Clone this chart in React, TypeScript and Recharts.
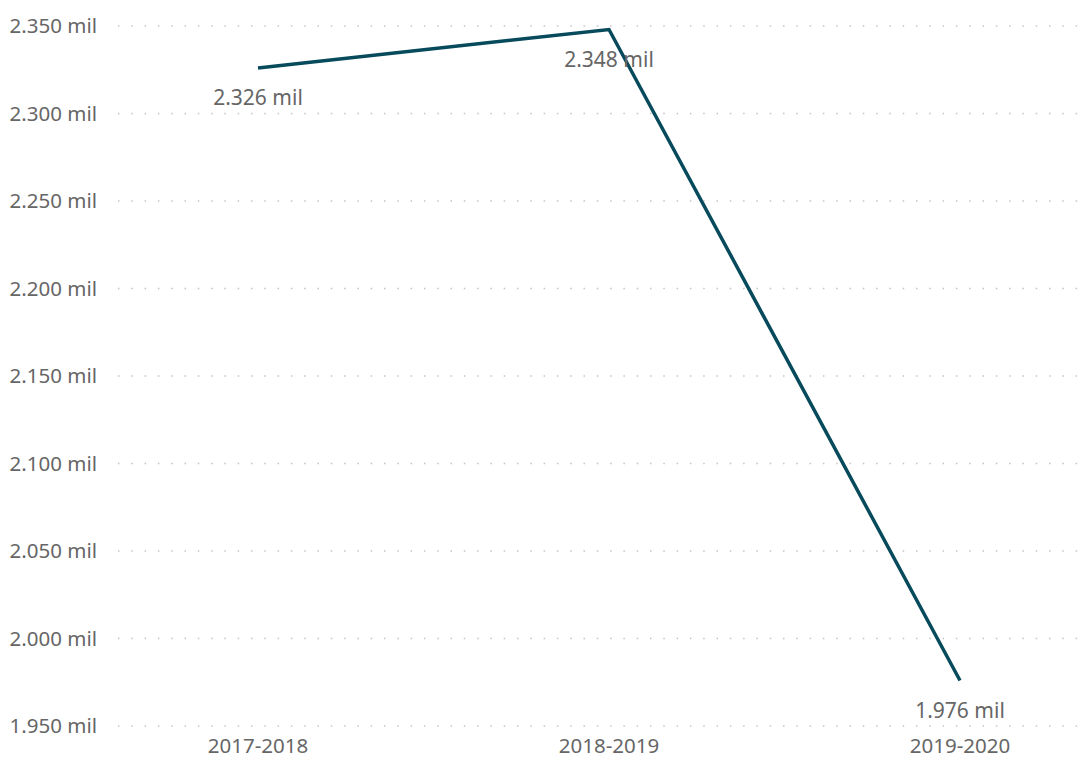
import { LineChart, Line, XAxis, YAxis, CartesianGrid, LabelList } from 'recharts';

const years = ['2017-2018', '2018-2019', '2019-2020'];
const students = [2326, 2348, 1976];
const yTicks = [1950, 2000, 2050, 2100, 2150, 2200, 2250, 2300, 2350];

const data = years.map((year, i) => ({ year, value: students[i] }));

const fmt = (v: number) => (v / 1000).toFixed(3) + ' mil';

const font = '"Noto Sans", "Open Sans", sans-serif';

function ValueLabel(props: any) {
  const { x, y, value } = props;
  return (
    <text
      x={x}
      y={y + 29}
      textAnchor="middle"
      dominantBaseline="central"
      fill="#666"
      fontSize={21}
      fontFamily={font}
    >
      {fmt(value)}
    </text>
  );
}

export default function App() {
  return (
    <div style={{ position: 'absolute', left: 0, top: 0, background: '#fff' }}>
      <LineChart
        width={1088}
        height={762}
        data={data}
        margin={{ top: 26, right: 0, bottom: 0, left: 0 }}
      >
        <CartesianGrid
          vertical={false}
          stroke="#c4c4c4"
          strokeWidth={1.5}
          strokeDasharray="1.5 11.8"
        />
        <XAxis
          dataKey="year"
          axisLine={false}
          tickLine={false}
          tickSize={0}
          tickMargin={12}
          height={36}
          padding={{ left: 140, right: 128 }}
          tick={{ fill: '#666', fontSize: 20.5, fontFamily: font }}
        />
        <YAxis
          domain={[1950, 2350]}
          ticks={yTicks}
          axisLine={false}
          tickLine={false}
          tickSize={0}
          tickMargin={21}
          width={118}
          tickFormatter={fmt}
          tick={{ fill: '#666', fontSize: 20.5, fontFamily: font }}
        />
        <Line
          type="linear"
          dataKey="value"
          stroke="#064a5b"
          strokeWidth={3.5}
          dot={false}
          activeDot={false}
          isAnimationActive={false}
        >
          <LabelList dataKey="value" content={ValueLabel} />
        </Line>
      </LineChart>
    </div>
  );
}
